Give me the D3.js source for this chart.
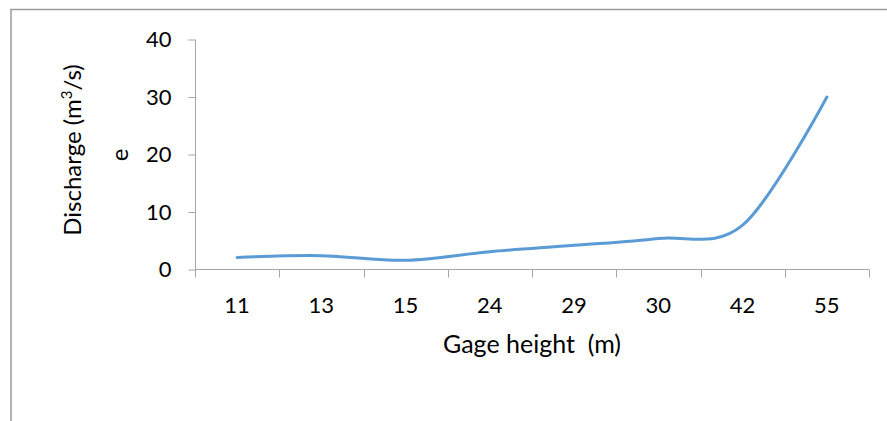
<!DOCTYPE html>
<html>
<head>
<meta charset="utf-8">
<script src="https://cdn.jsdelivr.net/npm/d3@7.9.0/dist/d3.min.js"></script>
<style>
  body { margin: 0; background: #fff; }
  svg { display: block; font-family: Lato, "Open Sans", sans-serif; }
</style>
</head>
<body>
<svg id="chart" width="887" height="421"></svg>
<script>
const gageHeights = ['11', '13', '15', '24', '29', '30', '42', '55'];
const discharge = [2.1, 2.4, 1.6, 3.1, 4.2, 5.4, 7.7, 30];
const yTicks = [0, 10, 20, 30, 40];

const svg = d3.select('#chart');

// outer chart border (only top and left show in the frame)
svg.append('rect')
  .attr('x', 11).attr('y', 9.5)
  .attr('width', 900).attr('height', 430)
  .attr('fill', 'none')
  .attr('stroke', '#9a9a9a')
  .attr('stroke-width', 1.5);

const x = d3.scaleBand().domain(gageHeights).range([195, 869]);
const y = d3.scaleLinear().domain([0, 40]).range([269.5, 39.5]);

// y axis
const yAxis = svg.append('g')
  .attr('transform', 'translate(195.5,0)')
  .call(d3.axisLeft(y).tickValues(yTicks).tickSize(7).tickPadding(17));
yAxis.select('.domain').attr('stroke', '#a6a6a6').attr('d', `M0,${y(40)}V${y(0)}`);
yAxis.selectAll('.tick line').attr('stroke', '#a6a6a6');
yAxis.selectAll('.tick text').attr('font-size', 22).attr('fill', '#000').attr('font-family', 'Lato');

// x axis, ticks at the band edges
const xg = svg.append('g').attr('transform', 'translate(0,269.5)');
xg.append('line')
  .attr('x1', 195).attr('x2', 869)
  .attr('stroke', '#a6a6a6');
const edges = gageHeights.map(d => x(d)).concat([869]);
xg.selectAll('.edge').data(edges).enter().append('line')
  .attr('class', 'edge')
  .attr('x1', d => Math.round(d) + 0.5).attr('x2', d => Math.round(d) + 0.5)
  .attr('y1', 0).attr('y2', 8)
  .attr('stroke', '#a6a6a6');
xg.selectAll('.lbl').data(gageHeights).enter().append('text')
  .attr('class', 'lbl')
  .attr('x', d => x(d) + x.bandwidth() / 2)
  .attr('y', 43)
  .attr('text-anchor', 'middle')
  .attr('font-size', 22)
  .text(d => d);

// line
const line = d3.line()
  .x((d, i) => x(gageHeights[i]) + x.bandwidth() / 2)
  .y(d => y(d))
  .curve(d3.curveCatmullRom.alpha(0));

svg.append('path')
  .datum(discharge)
  .attr('d', line)
  .attr('fill', 'none')
  .attr('stroke', '#5b9bd5')
  .attr('stroke-width', 3)
  .attr('stroke-linecap', 'round');

// axis titles
const yt = svg.append('text')
  .attr('transform', 'translate(81,150) rotate(-90)')
  .attr('text-anchor', 'middle')
  .attr('font-size', 24);
yt.append('tspan').text('Discharge (m');
yt.append('tspan').attr('font-size', 15).attr('dy', -9).text('3');
yt.append('tspan').attr('dy', 9).text('/s)');

svg.append('text')
  .attr('transform', 'translate(128,155) rotate(-90)')
  .attr('text-anchor', 'middle')
  .attr('font-size', 24)
  .text('e');

svg.append('text')
  .attr('x', 532).attr('y', 353)
  .attr('text-anchor', 'middle')
  .attr('font-size', 25)
  .attr('xml:space', 'preserve')
  .style('white-space', 'pre')
  .text('Gage height  (m)');
</script>
</body>
</html>
